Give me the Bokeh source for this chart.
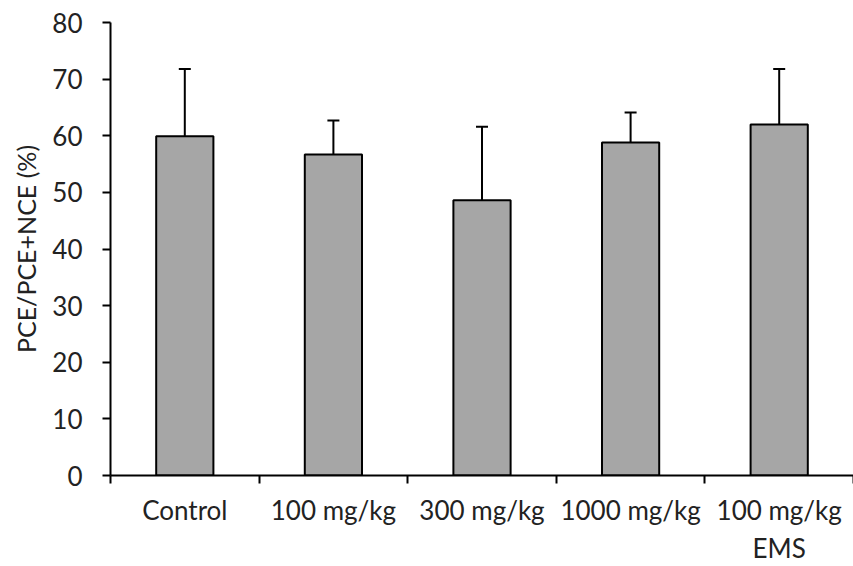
from bokeh.plotting import figure
from bokeh.models import (Range1d, LinearAxis, FixedTicker, Whisker,
                          ColumnDataSource, TeeHead)
from bokeh.embed import file_html
from bokeh.resources import INLINE

categories = ["Control", "100 mg/kg", "300 mg/kg", "1000 mg/kg", "100 mg/kg\nEMS"]
means = [59.9, 56.7, 48.6, 58.8, 62.0]
errors = [11.9, 6.0, 13.0, 5.3, 9.8]
y_ticks = [0, 10, 20, 30, 40, 50, 60, 70, 80]

FONT = "Lato"
TXT = "#222222"

n = len(categories)
centers = [i + 0.5 for i in range(n)]
upper = [m + e for m, e in zip(means, errors)]
src = ColumnDataSource(dict(x=centers, mean=means, upper=upper))

p = figure(width=853, height=566, output_backend="svg", toolbar_location=None,
           x_range=Range1d(0, n), y_range=Range1d(0, 80),
           x_axis_location=None, y_axis_location=None,
           min_border_left=110, min_border_right=0, min_border_top=22,
           min_border_bottom=88)
p.outline_line_color = None
p.grid.visible = False
p.background_fill_color = "white"

# x ticks at category boundaries (closest to frame)
tick_axis = LinearAxis(ticker=FixedTicker(ticks=list(range(n + 1))),
                       major_label_text_font_size="1px", major_label_standoff=0,
                       major_label_text_color=None,
                       axis_line_width=2, axis_line_color="black",
                       major_tick_line_width=2, major_tick_line_color="black",
                       major_tick_in=0, major_tick_out=8,
                       minor_tick_line_color=None)
p.add_layout(tick_axis, "below")

cat_axis = LinearAxis(ticker=FixedTicker(ticks=centers),
                      major_label_overrides={c: lab for c, lab in zip(centers, categories)},
                      axis_line_color=None, major_tick_line_color=None,
                      minor_tick_line_color=None,
                      major_label_text_font=FONT,
                      major_label_text_font_size="26px",
                      major_label_text_color=TXT,
                      major_label_standoff=4)
p.add_layout(cat_axis, "below")

yaxis = LinearAxis(ticker=FixedTicker(ticks=y_ticks),
                   axis_line_width=2, axis_line_color="black",
                   major_tick_line_width=2, major_tick_line_color="black",
                   major_tick_in=0, major_tick_out=8,
                   minor_tick_line_color=None,
                   major_label_text_font=FONT, major_label_text_font_size="26px",
                   major_label_text_color=TXT, major_label_standoff=20,
                   axis_label="PCE/PCE+NCE (%)", axis_label_text_font=FONT,
                   axis_label_text_font_size="25px", axis_label_text_font_style="normal",
                   axis_label_text_color=TXT, axis_label_standoff=8)
p.add_layout(yaxis, "left")

w = Whisker(source=src, base="x", lower="mean", upper="upper",
            line_color="black", line_width=2,
            upper_head=TeeHead(size=12, line_color="black", line_width=2),
            lower_head=None, level="underlay")
p.add_layout(w)

p.vbar(x="x", top="mean", bottom=0, width=0.385, source=src,
       fill_color="#a6a6a6", line_color="black", line_width=2)

open("out.html", "w").write(file_html(p, INLINE))
